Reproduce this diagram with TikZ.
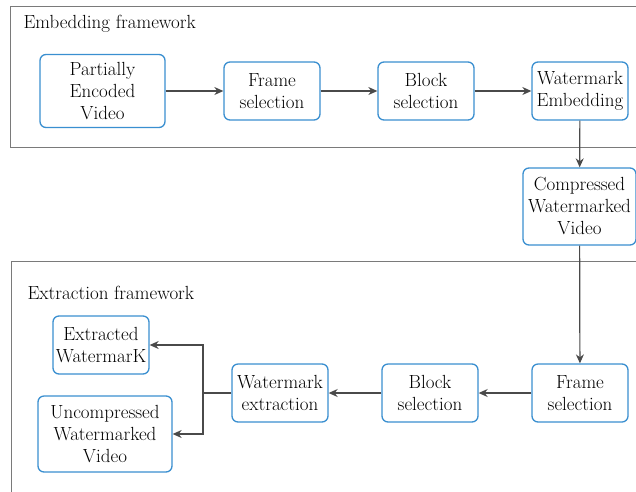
\documentclass[tikz,border=0pt]{standalone}
\usetikzlibrary{arrows.meta}
\definecolor{boxblue}{HTML}{3A8FD0}
\definecolor{linegray}{HTML}{4A4A4A}
\definecolor{framegray}{HTML}{7A7A7A}
\tikzset{
  stage/.style={draw=boxblue, line width=1.3pt, rounded corners=6pt, fill=white,
    align=center, inner sep=1pt, font=\fontsize{19}{22}\selectfont},
  flow/.style={draw=linegray, line width=1.2pt, -{Stealth[length=9pt,width=8pt]}},
  panel/.style={draw=framegray, line width=1pt}
}
\begin{document}
\begin{tikzpicture}[x=1pt,y=-1pt]
\useasboundingbox (0,0) rectangle (636,491);
\begin{scope}
\clip (0,0) rectangle (636,491);
% the two frameworks
\draw[panel] (10,6) rectangle (660,147);
\draw[panel] (11,261) rectangle (660,520);
\end{scope}
\node[anchor=west, font=\fontsize{19}{22}\selectfont] (emblabel) at (20,24) {Embedding framework};
\node[anchor=west, font=\fontsize{19}{22}\selectfont] (extlabel) at (24,293) {Extraction framework};

% embedding
   \node[stage, minimum width=125, minimum height=73] at (102.5,91) (pev) {Partially\\Encoded\\Video};
   \node[stage, minimum width=96, minimum height=58] at (272,91) (fsel) {Frame\\selection};
   \node[stage, minimum width=96, minimum height=58] at (426,91) (bsel) {Block\\selection};
   \node[stage, minimum width=96, minimum height=58] at (580,91) (wemb) {Watermark\\Embedding};
   \node[stage, minimum width=113, minimum height=77] at (579.5,206.5) (cwv) {Compressed\\Watermarked\\Video};

% extraction
   \node[stage, minimum width=96, minimum height=58] at (580,393) (fsel2) {Frame\\selection};
   \node[stage, minimum width=96, minimum height=58] at (430,393) (bsel2) {Block\\selection};
   \node[stage, minimum width=96, minimum height=58] at (280,393) (wext) {Watermark\\extraction};
   \node[stage, minimum width=96, minimum height=58] at (101,345) (ewm) {Extracted\\WatermarK};
   \node[stage, minimum width=134, minimum height=76] at (105,434) (uwv) {Uncompressed\\Watermarked\\Video};
   \coordinate (split) at (203,393);

    \draw[flow] (pev) -- (fsel);
    \draw[flow] (fsel) -- (bsel);
    \draw[flow] (bsel) -- (wemb);
    \draw[flow] (wemb) -- (cwv);
    \draw[flow] (cwv) -- (fsel2);
    \draw[flow] (fsel2) -- (bsel2);
    \draw[flow] (bsel2) -- (wext);
    \draw[draw=linegray, line width=1.2pt] (wext.west) -- (split);
    \draw[flow] (split) |- (ewm.east);
    \draw[flow] (split) |- (uwv.east);

\end{tikzpicture}
\end{document}
